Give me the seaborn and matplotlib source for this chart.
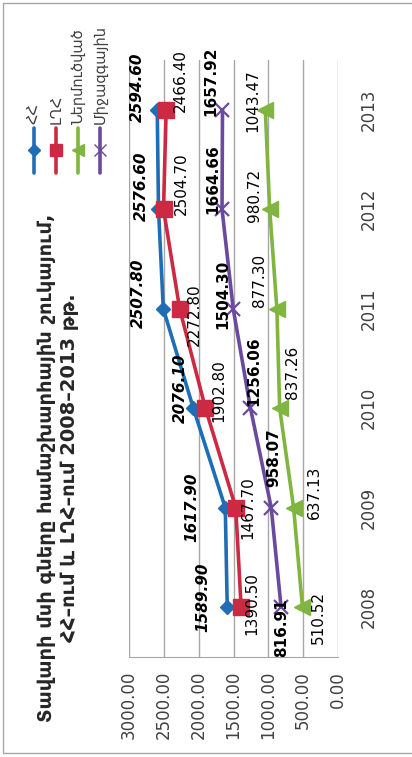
import matplotlib
matplotlib.use('Agg')
from matplotlib import rcParams
from matplotlib.lines import Line2D
from matplotlib.patches import Rectangle
import matplotlib.pyplot as plt
import pandas as pd
import seaborn as sns

# settings
sns.set_style("white")
rcParams['font.family'] = ['DejaVu Sans']

# data (prices 2008-2013)
years = ['2008', '2009', '2010', '2011', '2012', '2013']
names = ['ՀՀ', 'ԼՂՀ', 'Ներմուծված', 'Միջազգային']
hh = [1589.90, 1617.90, 2076.10, 2507.80, 2576.60, 2594.60]
lgh = [1390.50, 1467.70, 1902.80, 2272.80, 2504.70, 2466.40]
imported = [510.52, 637.13, 837.26, 877.30, 980.72, 1043.47]
world = [816.91, 958.07, 1256.06, 1504.30, 1664.66, 1657.92]
value_ticks = [0, 500, 1000, 1500, 2000, 2500, 3000]
title = 'Տավարի մսի գները համաշխարհային շուկայում,\nՀՀ–ում և ԼՂՀ–ում 2008–2013 թթ.'

df = pd.DataFrame({'series': sum([[n] * len(years) for n in names], []),
                   'pos': list(range(len(years))) * len(names),
                   'value': hh + lgh + imported + world})

# styles: colour, marker, size, label weight, label style
styles = {'ՀՀ': ('#1f6db5', 'D', 7.5, 'bold', 'italic'),
          'ԼՂՀ': ('#cc2a42', 's', 11.5, 'normal', 'normal'),
          'Ներմուծված': ('#80b540', '<', 11.5, 'normal', 'normal'),
          'Միջազգային': ('#6b4a9e', 'x', 10, 'bold', 'normal')}
# label offsets from point, in pixels (right, down) of the rotated chart
lab_off = {'ՀՀ': [(-24, -10), (-33, 0), (-13, -20), (-25, -15), (-17, -23), (-20, -22)],
           'ԼՂՀ': [(11, -4), (12, 0), (13, -18), (15, 6), (18, -26), (14, -29)],
           'Ներմուծված': [(16, 10), (21, -15), (13, -36), (-17, -28), (-15, -14), (-12, -9)],
           'Միջազգային': [(1, 20), (2, -50), (3, -37), (-10, -14), (-9, -30), (-12, -29)]}

fig = plt.figure(figsize=(4.12, 7.57), dpi=100)
ax = fig.add_axes([129/412, 1-657/757, 209/412, 597/757])

for n in names:
    col, mk, ms, fw, fs = styles[n]
    d = df[df.series == n]
    sns.lineplot(data=d, x='value', y='pos', sort=False, color=col, marker=mk, markersize=ms,
                 markeredgecolor=col, markeredgewidth=1.6 if mk == 'x' else 1, lw=2.6, ax=ax)
    for (v, p), (dx, dy) in zip(zip(d['value'], d['pos']), lab_off[n]):
        ax.annotate('%.2f' % v, (v, p), xytext=(dx*0.72, -dy*0.72), textcoords='offset points',
                    rotation=90, ha='center', va='center', fontsize=11, fontweight=fw, fontstyle=fs,
                    color='black')

ax.set_xlim(3000, 0)
ax.set_ylim(-0.5, 5.5)
ax.set_xticks(value_ticks)
ax.set_xticklabels(['%.2f' % t for t in value_ticks], rotation=90, va='top', ha='center',
                   fontsize=12, color='#404040')
ax.yaxis.tick_right()
ax.set_yticks(range(len(years)))
ax.set_yticklabels(years, rotation=90, va='center', ha='left', fontsize=12, color='#404040')
ax.tick_params(axis='x', length=0, pad=10)
ax.tick_params(axis='y', length=0, pad=16)
ax.set_xlabel('')
ax.set_ylabel('')
ax.grid(axis='x', color='#a6a6a6', lw=1)
ax.grid(axis='y', visible=False)
for s in ['top', 'left', 'right']:
    ax.spines[s].set_visible(False)
ax.spines['bottom'].set_color('#a6a6a6')

# title
fig.text(58/412, 1-468/757, title, rotation=90, ha='center', va='center',
         fontsize=14, fontweight='bold', multialignment='center', linespacing=1.25)

# legend (drawn by hand, rotated)
for i, n in enumerate(names):
    col, mk, ms, fw, fs = styles[n]
    x = (34 + 22*i)/412
    fig.add_artist(Line2D([x, x, x], [1-173/757, 1-150/757, 1-128/757], transform=fig.transFigure,
                          color=col, lw=2.6, marker=mk, markersize=ms*0.8, markevery=[1],
                          markeredgecolor=col))
    fig.text(x, 1-124/757, n, rotation=90, ha='center', va='bottom', fontsize=10.5, color='#404040')

# chart frame (right edge cut off as in the source)
fig.add_artist(Rectangle((3/412, 4/757), 1.1, 1-7/757, transform=fig.transFigure,
                         fill=False, edgecolor='#a6a6a6', lw=1))

fig.savefig('out.png', dpi=100)
